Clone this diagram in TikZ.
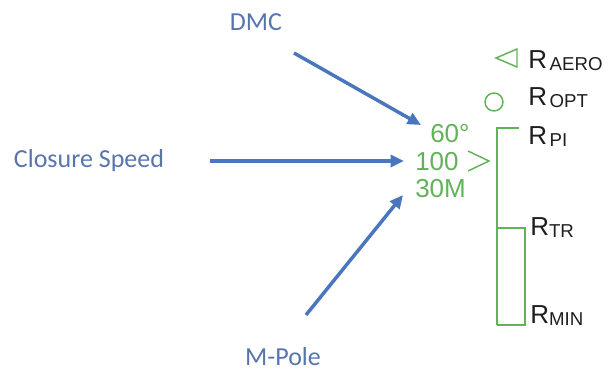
\documentclass[tikz,border=0pt]{standalone}
\usepackage{fontspec}
\setmainfont{Liberation Sans}
\newfontfamily\calibrifont{Carlito}
\usetikzlibrary{arrows.meta}
\definecolor{labelblue}{HTML}{5875AE}
\definecolor{arrowblue}{HTML}{4A76BE}
\definecolor{hudgreen}{HTML}{62B25A}
\definecolor{rangeink}{HTML}{1E1E1E}
\newcommand{\rsub}[1]{\raisebox{-2pt}{\fontsize{14}{16}\selectfont #1}}

\begin{document}
\begin{tikzpicture}[
    x=0.75pt, y=-0.75pt,
    % Input labels (blue)
    inputlabel/.style={
        text=labelblue, inner sep=0pt,
        font=\calibrifont\fontsize{19.5}{22}\selectfont
    },
    % Arrow style
    feed/.style={-{Triangle[length=10pt,width=9pt]}, draw=arrowblue, line width=2.6pt},
    % HUD readouts (green)
    readout/.style={
        text=hudgreen, anchor=base west, inner sep=0pt,
        font=\fontsize{19.5}{22}\selectfont
    },
    hudline/.style={draw=hudgreen, line width=1.1pt},
    % Range labels
    rangelabel/.style={
        text=rangeink, anchor=base west, inner sep=0pt,
        font=\fontsize{19.5}{22}\selectfont
    }
]
\useasboundingbox (0,0) rectangle (612,375);

% Input labels
\node[inputlabel] (dmc) at (256,22) {DMC};
\node[inputlabel] (closure) at (89,161) {Closure Speed};
\node[inputlabel] (mpole) at (283,357) {M-Pole};

% Arrow ends
\coordinate (dmcstart) at (294,53);
\coordinate (dmctip) at (421,125);
\coordinate (csstart) at (210,161);
\coordinate (cstip) at (404,161);
\coordinate (mpstart) at (306,315);
\coordinate (mptip) at (403,195);

% Arrows into the readout
\draw[feed] (dmcstart) -- (dmctip);
\draw[feed] (csstart) -- (cstip);
\draw[feed] (mpstart) -- (mptip);

% Green readouts
\node[readout] (angle) at (430,142) {60°};
\node[readout] (speed) at (415,170) {100};
\node[readout] (range) at (415,197) {30M};
\draw[hudline] (468,151) -- (489,161) -- (468,171);

% Symbols
\draw[hudline] (517,49) -- (496,58) -- (517,67) -- cycle;
\draw[hudline] (494,102) circle (9);

% Range scale
\draw[hudline] (519,128) -- (497,128) -- (497,325);
\draw[hudline] (497,228) -- (525,228) -- (525,325) -- (497,325);

% Range labels
\node[rangelabel] (raero) at (528,68) {R\kern2pt\rsub{AERO}};
\node[rangelabel] (ropt) at (528,105) {R\kern2pt\rsub{OPT}};
\node[rangelabel] (rpi) at (528,144) {R\kern2pt\rsub{PI}};
\node[rangelabel] (rtr) at (530,235) {R\rsub{TR}};
\node[rangelabel] (rmin) at (530,323) {R\rsub{MIN}};

\end{tikzpicture}
\end{document}
